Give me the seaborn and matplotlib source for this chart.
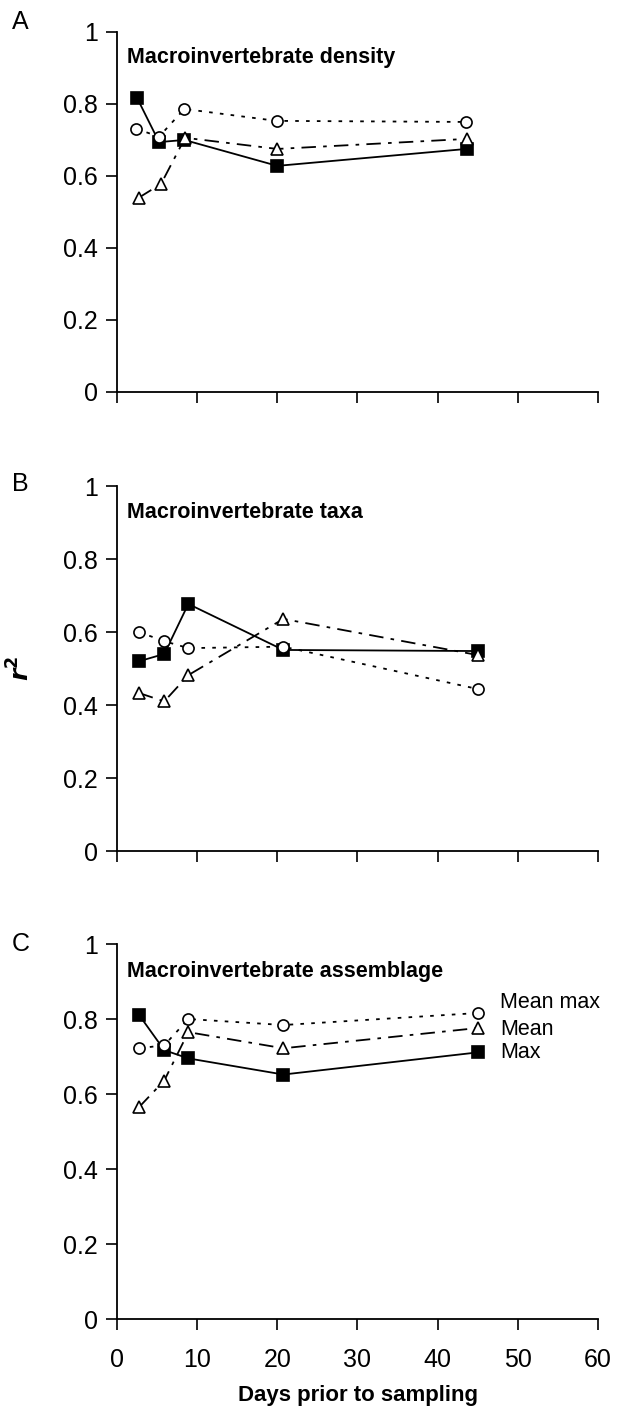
import matplotlib
matplotlib.use("Agg")
import matplotlib.pyplot as plt
import seaborn as sns
import numpy as np

sns.set_theme(style="ticks")
plt.rcParams['font.family'] = ['Liberation Sans', 'DejaVu Sans']
for k in ['text.color', 'axes.labelcolor', 'xtick.color', 'ytick.color', 'axes.edgecolor']:
    plt.rcParams[k] = 'black'

# Data (days prior to sampling, r^2)
days_a_max = [2.5, 5.25, 8.4, 20.0, 43.6]
days_a_meanmax = [2.4, 5.25, 8.4, 19.9, 43.5]
days_a_mean = [2.75, 5.5, 8.5, 20.0, 43.7]
a_max = [0.817, 0.694, 0.700, 0.628, 0.675]
a_meanmax = [0.731, 0.709, 0.786, 0.753, 0.750]
a_mean = [0.540, 0.578, 0.706, 0.675, 0.703]

days_b = [2.75, 5.9, 8.9, 20.75, 45.0]
b_max = [0.520, 0.540, 0.677, 0.551, 0.548]
b_meanmax = [0.600, 0.575, 0.556, 0.560, 0.444]
b_mean = [0.433, 0.410, 0.482, 0.636, 0.537]

days_c = [2.75, 5.9, 8.9, 20.75, 45.0]
c_max = [0.811, 0.717, 0.695, 0.652, 0.711]
c_meanmax = [0.722, 0.730, 0.800, 0.784, 0.816]
c_mean = [0.565, 0.636, 0.765, 0.722, 0.776]

panel_letters = ["A", "B", "C"]
panel_titles = ["Macroinvertebrate density", "Macroinvertebrate taxa",
                "Macroinvertebrate assemblage"]
legend_labels = ["Mean max", "Mean", "Max"]
x_ticks = [0, 10, 20, 30, 40, 50, 60]
y_ticks = [0, 0.2, 0.4, 0.6, 0.8, 1.0]
y_ticklabels = ["0", "0.2", "0.4", "0.6", "0.8", "1"]

panels = [
    ((days_a_max, a_max), (days_a_meanmax, a_meanmax), (days_a_mean, a_mean)),
    ((days_b, b_max), (days_b, b_meanmax), (days_b, b_mean)),
    ((days_c, c_max), (days_c, c_meanmax), (days_c, c_mean)),
]

fig = plt.figure(figsize=(6.17, 14.13), dpi=100)
left, width = 0.1896, 0.7796
positions = [(0.7226, 0.2548), (0.3977, 0.2583), (0.0665, 0.2654)]

styles = [
    dict(marker="s", linestyle="-", markerfacecolor="black"),
    dict(marker="o", linestyle=(0, (2, 4)), markerfacecolor="white"),
    dict(marker="^", linestyle=(0, (8, 4, 2, 4)), markerfacecolor="white"),
]

axes = []
for i, (bottom, h) in enumerate(positions):
    ax = fig.add_axes([left, bottom, width, h])
    axes.append(ax)
    series = panels[i]
    for (xs, ys), st in zip(series, styles):
        sns.lineplot(x=xs, y=ys, ax=ax, color="black", linewidth=1.3,
                     marker=st["marker"], linestyle=st["linestyle"],
                     markerfacecolor=st["markerfacecolor"],
                     markeredgecolor="black", markeredgewidth=1.2,
                     markersize=8, clip_on=False, sort=False)
    ax.set_xlim(0, 60)
    ax.set_ylim(0, 1)
    ax.set_yticks(y_ticks)
    ax.set_yticklabels(y_ticklabels, fontsize=18)
    ax.set_xticks(x_ticks)
    if i < 2:
        ax.set_xticklabels([])
    else:
        ax.set_xticklabels([str(t) for t in x_ticks], fontsize=18)
    ax.tick_params(axis="both", direction="out", length=8, width=1.2,
                   color="black", pad=6)
    ax.tick_params(axis="x", pad=13)
    for s in ["top", "right"]:
        ax.spines[s].set_visible(False)
    for s in ["left", "bottom"]:
        ax.spines[s].set_linewidth(1.3)
        ax.spines[s].set_color("black")
    ax.set_xlabel("")
    ax.set_ylabel("")
    ax.text(0.02, 0.928, panel_titles[i], transform=ax.transAxes,
            fontsize=15.5, fontweight="bold", va="center", ha="left")
    ax.set_facecolor("white")

# Panel letters
letter_y = [22, 484, 944]
for letter, py in zip(panel_letters, letter_y):
    fig.text(12 / 617, 1 - py / 1413, letter, fontsize=18, ha="left", va="center")

# Legend labels in panel C
axc = axes[2]
leg_y = [0.843, 0.773, 0.711]
for lab, yv in zip(legend_labels, leg_y):
    axc.text(47.8, yv, lab, fontsize=15.5, va="center", ha="left")

# y label
fig.text(21 / 617, 1 - 668 / 1413, r"$\boldsymbol{r}^{\mathbf{2}}$", fontsize=18,
         rotation=90, ha="center", va="center", fontweight="bold", style="italic")

# x label
fig.text((118 + 598) / 2 / 617, 1 - 1396 / 1413, "Days prior to sampling",
         fontsize=16, fontweight="bold", ha="center", va="center")

fig.savefig("out.png", dpi=100, facecolor="white")
